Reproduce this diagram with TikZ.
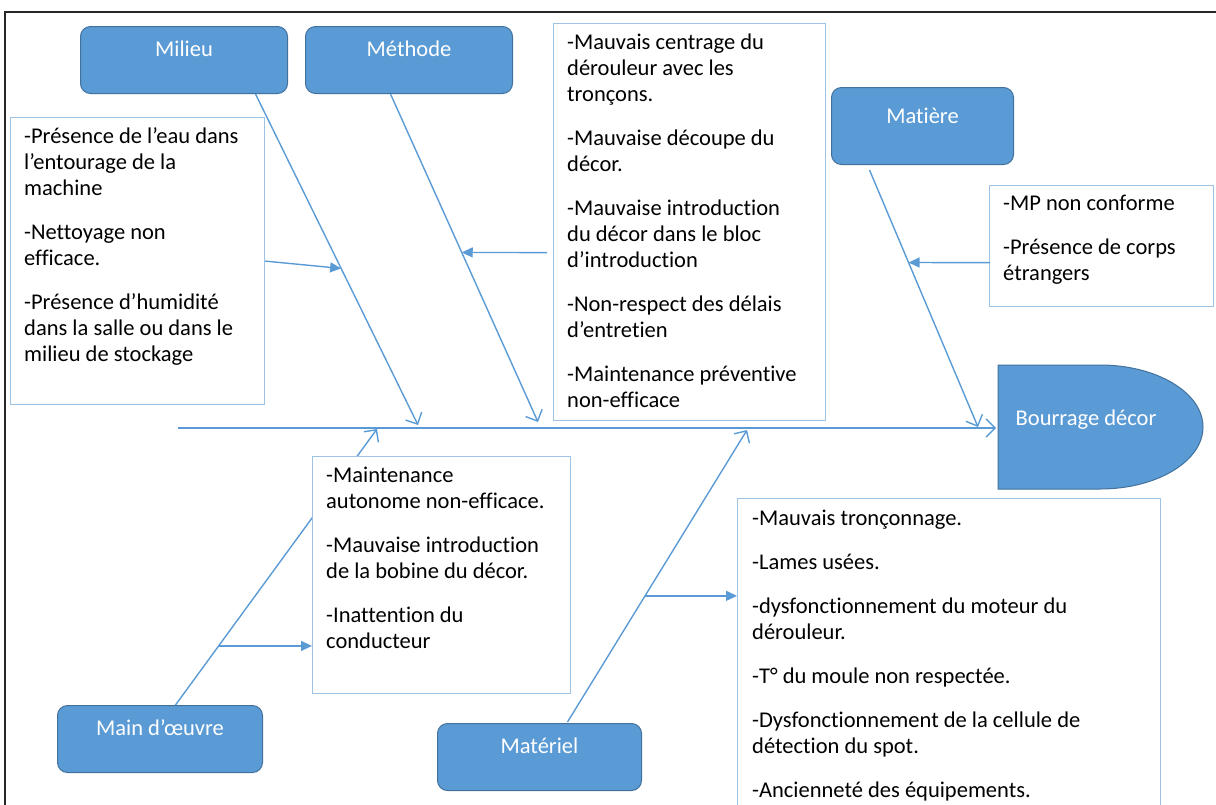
\documentclass[tikz,border=0pt]{standalone}
\usepackage{fontspec}
\setmainfont[Ligatures=NoCommon]{Carlito}
\usetikzlibrary{arrows.meta,calc}
\definecolor{accent}{HTML}{5B9BD5}
\definecolor{accentdark}{HTML}{41719C}
\definecolor{paneledge}{HTML}{9DC3E6}
\begin{document}
\begin{tikzpicture}[x=1pt,y=-1pt,
  catbox/.style={rounded corners=10pt, fill=accent, draw=accentdark, line width=1pt,
    text=white, font=\fontsize{22.5}{26}\selectfont, inner sep=0pt, anchor=north west},
  causebox/.style={draw=paneledge, fill=white, line width=1.2pt, inner sep=0pt, anchor=north west},
  causetext/.style={align=left, inner sep=0pt, anchor=north west, text=black,
    font=\fontsize{22.5}{26}\selectfont},
  bone/.style={draw=accent, line width=1.4pt, -{Straight Barb[length=9pt,width=18pt,line width=1.4pt]}},
  sub/.style={draw=accent, line width=1.4pt, -{Triangle[length=11pt,width=10pt]}}]
\useasboundingbox (0,0) rectangle (1216,804);
\clip (0,0) rectangle (1216,804);

% outer frame
\draw[line width=2.6pt, black!85] (5,810) -- (5,12) -- (1220,12);

% category boxes
\node[catbox, minimum width=207pt, text height=30pt, text depth=37pt] (milieu) at (80,26) {Milieu};
\node[catbox, minimum width=207pt, text height=30pt, text depth=37pt] (methode) at (305,26) {Méthode};
\node[catbox, minimum width=182pt, text height=36pt, text depth=41pt] (matiere) at (831,87) {Matière};
\node[catbox, minimum width=205pt, text height=30pt, text depth=37pt] (mainoeuvre) at (57,705) {Main d’œuvre};
\node[catbox, minimum width=204pt, text height=30pt, text depth=37pt] (materiel) at (437,723) {Matériel};

% effect head
\path[fill=accent, draw=accentdark, line width=1pt]
  (998,365) -- (1100,365) arc[start angle=-90, end angle=90, x radius=103, y radius=62]
  -- (998,489) -- cycle;
\node[text=white, font=\fontsize{22.5}{26}\selectfont, inner sep=0pt, anchor=base] (effet) at (1086,425) {Bourrage décor};

% spine and bones
\coordinate (tail) at (178,428);
\coordinate (head) at (996,428);
\coordinate (milieuS) at ([xshift=71.5pt]milieu.south);
\coordinate (methodeS) at ([xshift=-18.5pt]methode.south);
\coordinate (matiereS) at ([xshift=-53pt,yshift=-5pt]matiere.south);
\coordinate (mainS) at ([xshift=15.5pt]mainoeuvre.north);
\coordinate (materielS) at ([xshift=28pt,yshift=1pt]materiel.north);
\coordinate (milieuT) at (418,425);
\coordinate (methodeT) at (538,422);
\coordinate (matiereT) at (978,427);
\coordinate (mainT) at (377,429);
\coordinate (materielT) at (747,430);

\draw[bone] (tail) -- (head);
\draw[bone] (milieuS) -- (milieuT);
\draw[bone] (methodeS) -- (methodeT);
\draw[bone] (matiereS) -- (matiereT);
\draw[bone] (mainS) -- (mainT);
\draw[bone] (materielS) -- (materielT);

% cause panels
\node[causebox, minimum width=254pt, minimum height=287pt] (milieuC) at (10,117) {};
\node[causebox, minimum width=272pt, minimum height=397pt] (methodeC) at (553,23) {};
\node[causebox, minimum width=224pt, minimum height=121pt] (matiereC) at (989,185) {};
\node[causebox, minimum width=258pt, minimum height=237pt] (mainC) at (312,456) {};
\node[causebox, minimum width=423pt, minimum height=320pt] (materielC) at (737,498) {};

% branch arrows
\draw[sub] (milieuC.east) -- ($(milieuS)!0.527!(milieuT)$);
\draw[sub] ($(methodeC.west)+(-6,30.5)$) -- ($(methodeS)!0.483!(methodeT)$);
\draw[sub] ($(matiereC.west)+(1,16.5)$) -- ($(matiereS)!0.36!(matiereT)$);
\coordinate (mainB) at ($(mainS)!0.214!(mainT)$);
\draw[sub] (mainB) -- (mainB -| mainC.west);
\coordinate (materielB) at ($(materielS)!0.432!(materielT)$);
\draw[sub] (materielB) -- (materielB -| materielC.west);

% cause texts
\node[causetext] (milieuL) at (24,124.8) {\strut-Présence de l’eau dans\\l’entourage de la\\machine\\[18pt]
-Nettoyage non\\efficace.\\[18pt]
-Présence d’humidité\\dans la salle ou dans le\\milieu de stockage};
\node[causetext] (methodeL) at (567,30.8) {\strut-Mauvais centrage du\\dérouleur avec les\\tronçons.\\[18pt]
-Mauvaise découpe du\\décor.\\[18pt]
-Mauvaise introduction\\du décor dans le bloc\\d’introduction\\[18pt]
-Non-respect des délais\\d’entretien\\[18pt]
-Maintenance préventive\\non-efficace};
\node[causetext] (matiereL) at (1003,191.8) {\strut-MP non conforme\\[18pt]
-Présence de corps\\étrangers};
\node[causetext] (mainL) at (326,463.8) {\strut-Maintenance\\autonome non-efficace.\\[18pt]
-Mauvaise introduction\\de la bobine du décor.\\[18pt]
-Inattention du\\conducteur};
\node[causetext] (materielL) at (752,506.8) {\strut-Mauvais tronçonnage.\\[18pt]
-Lames usées.\\[18pt]
-dysfonctionnement du moteur du\\dérouleur.\\[18pt]
-T° du moule non respectée.\\[18pt]
-Dysfonctionnement de la cellule de\\détection du spot.\\[18pt]
-Ancienneté des équipements.};
\end{tikzpicture}
\end{document}
